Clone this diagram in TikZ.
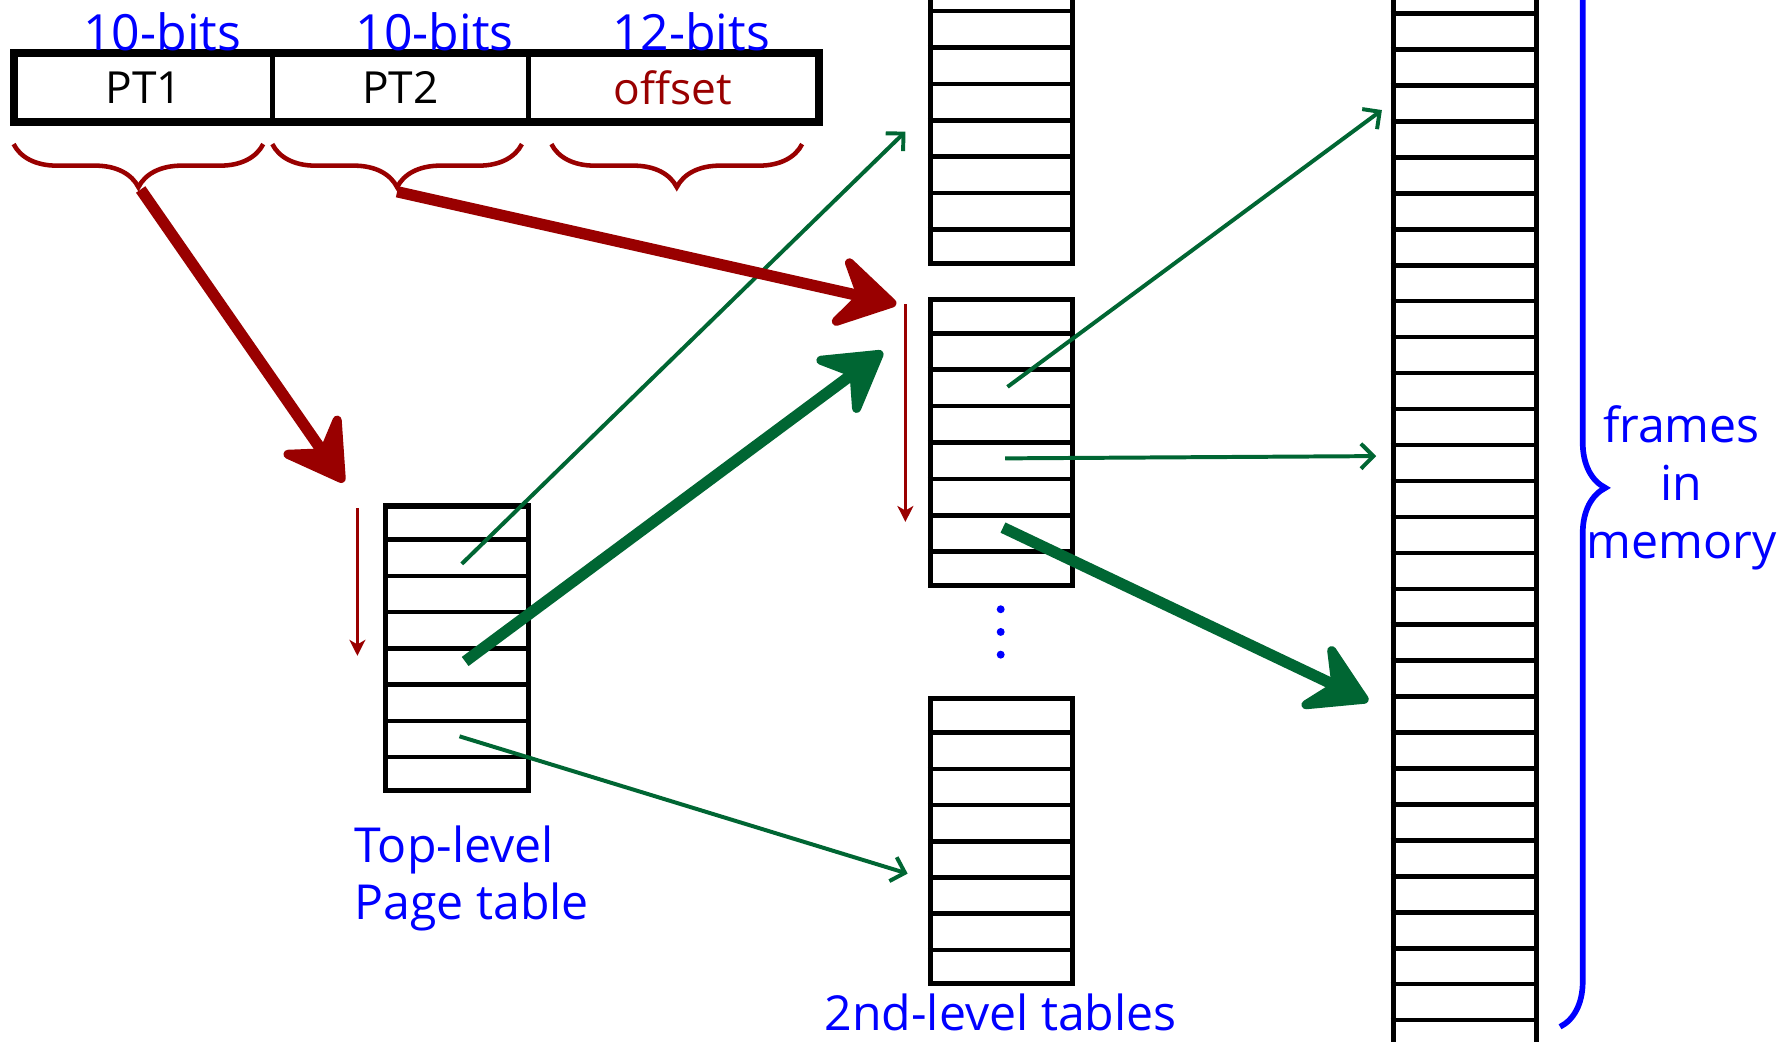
\documentclass[tikz,border=0pt]{standalone}
\usepackage{fontspec}
\setmainfont{Open Sans}
\usetikzlibrary{arrows.meta,calc,decorations.pathreplacing}

\definecolor{darkred}{RGB}{153,0,0}
\definecolor{darkgreen}{RGB}{0,102,51}

\tikzset{
  pagetab/.style={draw, line width=4.5pt, minimum width=126pt, inner sep=0pt},
  rowline/.style={line width=4pt},
  field/.style={draw, line width=4pt, minimum height=58pt, inner sep=0pt, font=\fontsize{39}{44}\selectfont},
  bitlabel/.style={text=blue, font=\fontsize{44}{50}\selectfont},
  caption/.style={text=blue, font=\fontsize{42.5}{51}\selectfont},
  bighead/.style={-{Stealth[length=64pt,width=76pt,inset=24pt,line width=8pt,round]}},
  redthick/.style={draw=darkred, line width=10pt, bighead},
  greenthick/.style={draw=darkgreen, line width=10pt, bighead},
  greenthin/.style={draw=darkgreen, line width=3.5pt, -{Straight Barb[length=11pt,width=22pt]}},
  redthin/.style={draw=darkred, line width=3pt, -{Stealth[length=14pt,width=14pt,inset=4pt]}},
  redbrace/.style={draw=darkred, line width=4pt, decorate, decoration={brace,mirror,amplitude=38pt}},
  bluebrace/.style={draw=blue, line width=5pt, decorate, decoration={brace,amplitude=40pt}},
}

\begin{document}
\begin{tikzpicture}[x=1pt,y=-1pt]
  \useasboundingbox (0,0) rectangle (1568,918);
  \clip (0,0) rectangle (1568,918);
  \fill[white] (0,0) rectangle (1568,918);

  % virtual address split
  \node[field, minimum width=226pt] (ptone) at (127,77) {PT1};
  \node[field, minimum width=226pt] (pttwo) at (353,77) {PT2};
  \node[field, minimum width=254pt, text=darkred] (offs) at (593,77) {offset};
  \draw[line width=6pt] (ptone.north west) rectangle (offs.south east);
  \node[bitlabel] (bitsone) at (143,28) {10-bits};
  \node[bitlabel] (bitstwo) at (383,28) {10-bits};
  \node[bitlabel] (bitsoff) at (609,28) {12-bits};

  \draw[redbrace] (12,127) -- (232,127);
  \draw[redbrace] (240,127) -- (460,127);
  \draw[redbrace] (486,127) -- (707,127);

  % tables
  \node[pagetab, minimum height=251pt] (toptab) at (403,571.5) {};
  \node[pagetab, minimum width=125pt, minimum height=252pt] (sectabA) at (882.5,106) {};
  \node[pagetab, minimum width=125pt, minimum height=252pt] (sectabB) at (882.5,390) {};
  \node[pagetab, minimum width=125pt, minimum height=251pt] (sectabC) at (882.5,741.5) {};
  \node[pagetab, minimum height=946pt] (frames) at (1291,455.6) {};
  \foreach \t/\n in {toptab/8, sectabA/8, sectabB/8, sectabC/8, frames/30} {
    \pgfmathtruncatemacro\last{\n-1}
    \foreach \k in {1,...,\last}
      \draw[rowline] ($(\t.north west)!\k/\n!(\t.south west)$) -- ($(\t.north east)!\k/\n!(\t.south east)$);
  }
  \foreach \y in {537,557,577}
    \fill[blue] (882,\y) circle (3.5pt);

  % labels
  \node[caption, align=left, anchor=north west] (toplbl) at (309,724) {Top-level\\Page table};
  \node[caption, anchor=base] (seclbl) at (882,908) {2nd-level tables};
  \draw[bluebrace] (1375,-45) -- (1375,905);
  \node[caption, align=center] (framelbl) at (1482,430) {frames\\in\\memory};

  % arrow ends
  \coordinate (ptonebr) at (124,167);
  \coordinate (pttwobr) at (350,169);
  \coordinate (topentry) at (303,425);
  \coordinate (secentry) at (790,268);
  \coordinate (toprowB) at (407,497);
  \coordinate (toprowE) at (410,583);
  \coordinate (toprowG) at (405,649);
  \coordinate (secrowB) at (888,341);
  \coordinate (secrowD) at (886,404);
  \coordinate (secrowF) at (884,465);
  \coordinate (inseca) at (798,116);
  \coordinate (insecb) at (778,310);
  \coordinate (insecc) at (800,770);
  \coordinate (framea) at (1218,97);
  \coordinate (frameb) at (1213,402);
  \coordinate (framec) at (1206,618);
  \coordinate (scantopa) at (315,448);
  \coordinate (scanbota) at (315,578);
  \coordinate (scantopb) at (798,268);
  \coordinate (scanbotb) at (798,460);

  % lookups
  \draw[greenthin] (toprowB) -- (inseca);
  \draw[greenthin] (toprowG) -- (insecc);
  \draw[greenthin] (secrowB) -- (framea);
  \draw[greenthin] (secrowD) -- (frameb);
  \draw[redthick] (ptonebr) -- (topentry);
  \draw[redthick] (pttwobr) -- (secentry);
  \draw[greenthick] (toprowE) -- (insecb);
  \draw[greenthick] (secrowF) -- (framec);
  \draw[redthin] (scantopa) -- (scanbota);
  \draw[redthin] (scantopb) -- (scanbotb);
\end{tikzpicture}
\end{document}
